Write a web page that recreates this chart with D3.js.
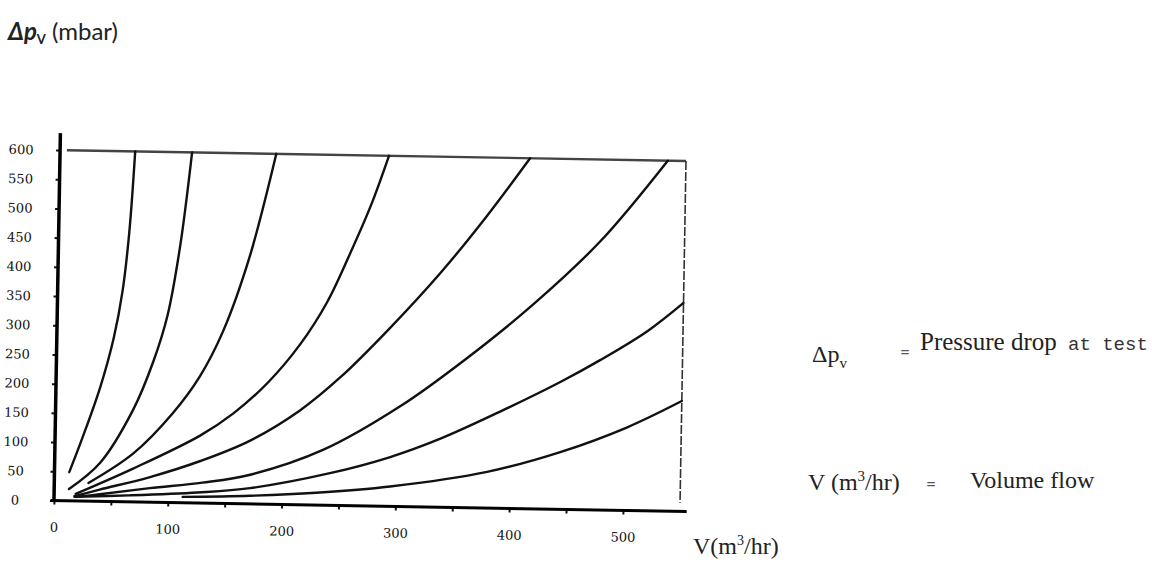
<!DOCTYPE html>
<html>
<head>
<meta charset="utf-8">
<script src="https://cdn.jsdelivr.net/npm/d3@7"></script>
<style>
  body { margin: 0; background: #fff; }
  svg { display: block; }
  .tickText { font-family: "DejaVu Serif", serif; font-size: 13px; fill: #111; }
</style>
</head>
<body>
<svg id="chart" width="1152" height="562"></svg>
<script>
// ***** Values *****
const xTickValues = [0, 50, 100, 150, 200, 250, 300, 350, 400, 450, 500];
const xTickLabels = [0, 100, 200, 300, 400, 500];
const yTickValues = [0, 50, 100, 150, 200, 250, 300, 350, 400, 450, 500, 550, 600];

// each curve: [V (m3/hr), pressure drop (mbar)]
const curveA = [[13, 49], [24, 108], [39, 196], [50, 280], [57, 360], [62, 460], [66, 600]];
const curveB = [[13, 20], [40, 66], [68, 157], [85, 240], [97, 321], [107, 440], [116, 600]];
const curveC = [[30, 31], [69, 83], [103, 153], [126, 216], [146, 295], [168, 422], [190, 600]];
const curveD = [[19, 12], [69, 57], [127, 115], [156, 154], [186, 208], [214, 275], [237, 348], [256, 430], [274, 515], [289, 600]];
const curveE = [[18, 8], [40, 20], [84, 43], [128, 72], [171, 108], [215, 162], [250, 220], [290, 300], [336, 401], [376, 500], [413, 600]];
const curveF = [[20, 7], [40, 12], [84, 24], [130, 35], [172, 50], [236, 95], [303, 172], [360, 255], [418, 350], [476, 460], [534, 600]];
const curveG = [[18, 7], [66, 11], [126, 18], [172, 27], [242, 55], [294, 84], [338, 117], [391, 166], [443, 218], [478, 257], [519, 308], [550, 357]];
const curveH = [[113, 10], [172, 14], [230, 21], [295, 34], [380, 62], [444, 98], [502, 142], [550, 189]];
const curves = [curveA, curveB, curveC, curveD, curveE, curveF, curveG, curveH];

const svg = d3.select("#chart");

const xScale = d3.scaleLinear().domain([0, 550]).range([57, 683]);
const yScale = d3.scaleLinear().domain([0, 600]).range([506, 155.5]);

// the scanned plot sits a little tilted
const plot = svg.append("g").attr("transform", "rotate(1, 370, 330)");

// ***** Frame: top line at 600 and right border *****
plot.append("line")
  .attr("x1", xScale(6))
  .attr("x2", xScale(550))
  .attr("y1", yScale(600))
  .attr("y2", yScale(600))
  .style("stroke", "#444")
  .style("stroke-width", 2.4);

plot.append("line")
  .attr("x1", xScale(550))
  .attr("x2", xScale(550))
  .attr("y1", yScale(600))
  .attr("y2", yScale(15))
  .style("stroke", "#333")
  .style("stroke-width", 1.6)
  .style("stroke-dasharray", "9,2");

// ***** Curves *****
const lineGen = d3.line()
  .x(function(d) { return xScale(d[0]); })
  .y(function(d) { return yScale(d[1]); })
  .curve(d3.curveCatmullRom.alpha(0.5));

plot.selectAll(".flowCurve")
  .data(curves)
  .enter()
  .append("path")
  .attr("class", "flowCurve")
  .attr("d", lineGen)
  .style("fill", "none")
  .style("stroke", "#111")
  .style("stroke-width", 2.4)
  .style("stroke-linecap", "round");

// ***** Axes *****
const yAxis = plot.append("g")
  .attr("transform", "translate(" + xScale(0) + ",0)")
  .call(d3.axisLeft(yScale).tickValues(yTickValues).tickSize(4).tickSizeOuter(0));
yAxis.select(".domain").remove();
yAxis.selectAll("line").style("stroke", "#111").style("stroke-width", 2);
yAxis.selectAll("text")
  .attr("class", "tickText")
  .attr("x", -39)
  .attr("text-anchor", "middle");

const xAxis = plot.append("g")
  .attr("transform", "translate(0," + yScale(0) + ")")
  .call(d3.axisBottom(xScale)
    .tickValues(xTickValues)
    .tickSize(4)
    .tickSizeOuter(0)
    .tickPadding(18)
    .tickFormat(function(d) { return xTickLabels.includes(d) ? d : ""; }));
xAxis.select(".domain").remove();
xAxis.selectAll("line").style("stroke", "#111").style("stroke-width", 2);
xAxis.selectAll("text").attr("class", "tickText");

// axis lines drawn by hand so they run past the frame like the original
plot.append("line")
  .attr("x1", xScale(0))
  .attr("x2", xScale(0))
  .attr("y1", yScale(0) + 1)
  .attr("y2", yScale(629))
  .style("stroke", "#000")
  .style("stroke-width", 3.5);

plot.append("line")
  .attr("x1", xScale(-3))
  .attr("x2", xScale(556))
  .attr("y1", yScale(0))
  .attr("y2", yScale(0))
  .style("stroke", "#000")
  .style("stroke-width", 3);

// ***** Axis titles *****
const yTitle = svg.append("text")
  .attr("x", 8)
  .attr("y", 40)
  .style("font-family", "Lato, 'Noto Sans', sans-serif")
  .style("font-size", "24px")
  .style("fill", "#222");
yTitle.append("tspan").text("Δp").style("font-weight", "bold").style("font-style", "italic");
yTitle.append("tspan").text("V").attr("dy", 4).style("font-size", "13px").style("font-weight", "bold");
yTitle.append("tspan").text(" (mbar)").attr("dy", -4);

const xTitle = svg.append("text")
  .attr("x", 693)
  .attr("y", 554)
  .style("font-family", "'Liberation Serif', serif")
  .style("font-size", "24px")
  .style("fill", "#222");
xTitle.append("tspan").text("V(m");
xTitle.append("tspan").text("3").attr("dy", -9).style("font-size", "14px");
xTitle.append("tspan").text("/hr)").attr("dy", 9);

// ***** Legend notes on the right *****
const note1 = svg.append("text")
  .attr("x", 812)
  .attr("y", 362)
  .style("font-family", "'Liberation Serif', serif")
  .style("font-size", "24px")
  .style("fill", "#222");
note1.append("tspan").text("Δp");
note1.append("tspan").text("v").attr("dy", 6).style("font-size", "15px");

svg.append("text")
  .attr("x", 905)
  .attr("y", 358)
  .attr("text-anchor", "middle")
  .style("font-family", "'Liberation Serif', serif")
  .style("font-size", "16px")
  .style("font-weight", "bold")
  .style("fill", "#555")
  .text("=");

svg.append("text")
  .attr("x", 920)
  .attr("y", 350)
  .style("font-family", "'Liberation Serif', serif")
  .style("font-size", "25px")
  .style("fill", "#222")
  .text("Pressure drop");

svg.append("text")
  .attr("x", 1068)
  .attr("y", 350)
  .style("font-family", "'Liberation Mono', monospace")
  .style("font-size", "19px")
  .style("fill", "#333")
  .text("at test");

const note2 = svg.append("text")
  .attr("x", 808)
  .attr("y", 490)
  .style("font-family", "'Liberation Serif', serif")
  .style("font-size", "24px")
  .style("fill", "#222");
note2.append("tspan").text("V (m");
note2.append("tspan").text("3").attr("dy", -9).style("font-size", "15px");
note2.append("tspan").text("/hr)").attr("dy", 9);

svg.append("text")
  .attr("x", 931)
  .attr("y", 490)
  .attr("text-anchor", "middle")
  .style("font-family", "'Liberation Serif', serif")
  .style("font-size", "16px")
  .style("font-weight", "bold")
  .style("fill", "#555")
  .text("=");

svg.append("text")
  .attr("x", 970)
  .attr("y", 488)
  .style("font-family", "'Liberation Serif', serif")
  .style("font-size", "24px")
  .style("fill", "#222")
  .text("Volume flow");
</script>
</body>
</html>
